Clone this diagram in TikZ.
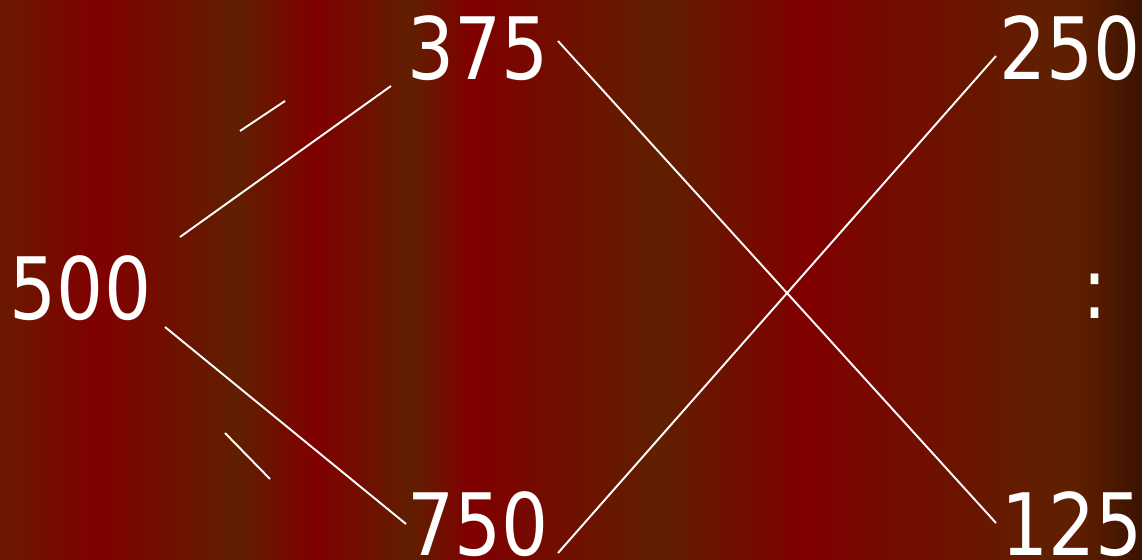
\documentclass[tikz,border=0pt]{standalone}
\usepackage{fontspec}
\setmainfont[FakeStretch=0.86]{DejaVu Sans}
\definecolor{cbrown}{HTML}{601F00}
\definecolor{cred}{HTML}{800000}
\definecolor{cmix}{HTML}{6A1A00}
\definecolor{cdark}{HTML}{3A1200}
\tikzset{
  num/.style={text=white, anchor=base, inner sep=0pt, font=\fontsize{49}{58}\selectfont},
  wline/.style={draw=white, line width=1.1pt},
  band/.style={draw=none}
}
\begin{document}
\begin{tikzpicture}[x=0.02cm, y=-0.02cm]
\useasboundingbox (0,0) rectangle (1142,560);
% background bands
\shade[band, left color=cmix, right color=cred] (0,0) rectangle (96.5,560);
\shade[band, left color=cred, right color=cbrown] (96,0) rectangle (237.5,560);
\shade[band, left color=cbrown, right color=cred] (237,0) rectangle (314.5,560);
\shade[band, left color=cred, right color=cbrown] (314,0) rectangle (411.5,560);
\shade[band, left color=cbrown, right color=cred] (411,0) rectangle (470.5,560);
\shade[band, left color=cred, right color=cbrown] (470,0) rectangle (660.5,560);
\shade[band, left color=cbrown, right color=cred] (660,0) rectangle (803.5,560);
\shade[band, left color=cred, right color=cbrown] (803,0) rectangle (1044.5,560);
\shade[band, left color=cbrown, right color=cbrown] (1044,0) rectangle (1075.5,560);
\shade[band, left color=cbrown, right color=cdark] (1075,0) rectangle (1142,560);
% numbers
\node[num] (n375) at (478,80) {375};
\node[num] (n500) at (80.5,319) {500};
\node[num] (n750) at (478,555) {750};
\node[num] (n250) at (1070,80) {250};
\node[num] (n125) at (1072,555) {125};
\node[num] (colon) at (1095,318) {:};
% line end points
\coordinate (a1) at (180,237);
\coordinate (a2) at (391,86);
\coordinate (b1) at (165,327);
\coordinate (b2) at (406,524);
\coordinate (c1) at (558,41);
\coordinate (c2) at (996,523);
\coordinate (d1) at (996,56);
\coordinate (d2) at (558,553);
\coordinate (t1) at (240,131);
\coordinate (t2) at (285,101);
\coordinate (u1) at (225,433);
\coordinate (u2) at (270,479);
% connectors
\draw[wline] (a1) -- (a2);
\draw[wline] (b1) -- (b2);
\draw[wline] (c1) -- (c2);
\draw[wline] (d1) -- (d2);
\draw[wline] (t1) -- (t2);
\draw[wline] (u1) -- (u2);
\end{tikzpicture}
\end{document}
